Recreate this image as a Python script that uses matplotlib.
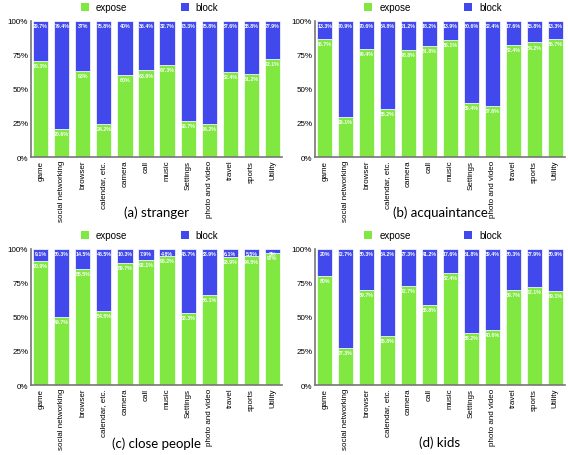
import matplotlib.pyplot as plt
import numpy as np
from matplotlib.patches import Patch

plt.rcParams['font.family'] = ['Liberation Sans', 'DejaVu Sans']

categories = ['game', 'social networking', 'browser', 'calendar, etc.', 'camera', 'call',
              'music', 'Settings', 'photo and video', 'travel', 'sports', 'Utility']

stranger_expose = [70.3, 20.6, 63, 24.2, 60, 63.6, 67.3, 26.7, 24.2, 62.4, 61.2, 72.1]
stranger_block = [29.7, 79.4, 37, 75.8, 40, 36.4, 32.7, 73.3, 75.8, 37.6, 38.8, 27.9]

acq_expose = [86.7, 29.1, 79.4, 35.2, 78.8, 81.8, 86.1, 39.4, 37.6, 82.4, 84.2, 86.7]
acq_block = [13.3, 70.9, 20.6, 64.8, 21.2, 18.2, 13.9, 60.6, 62.4, 17.6, 15.8, 13.3]

close_expose = [90.9, 49.7, 85.5, 54.5, 89.7, 92.1, 95.2, 53.3, 66.1, 93.9, 94.5, 97]
close_block = [9.1, 50.3, 14.5, 45.5, 10.3, 7.9, 4.8, 46.7, 33.9, 6.1, 5.5, 3]

kids_expose = [80, 27.3, 69.7, 35.8, 72.7, 58.8, 82.4, 38.2, 40.6, 69.7, 72.1, 69.1]
kids_block = [20, 72.7, 30.3, 64.2, 27.3, 41.2, 17.6, 61.8, 59.4, 30.3, 27.9, 30.9]

panels = [
    ('(a) stranger', stranger_expose, stranger_block),
    ('(b) acquaintance', acq_expose, acq_block),
    ('(c) close people', close_expose, close_block),
    ('(d) kids', kids_expose, kids_block),
]

green = '#80E840'
blue = '#4249EC'

# положения осей в долях фигуры (left, bottom, width, height)
rects = [
    (0.0546, 0.6535, 0.442, 0.2983),
    (0.5546, 0.6535, 0.440, 0.2983),
    (0.0546, 0.1535, 0.442, 0.2983),
    (0.5546, 0.1535, 0.440, 0.2983),
]
caption_y = [0.533, 0.533, 0.028, 0.030]

fig = plt.figure(figsize=(5.68, 4.56), dpi=100)

def fmt(v):
    return ('%g' % v) + '%'

x = np.arange(len(categories))
for (title, expose, block), rect, cy in zip(panels, rects, caption_y):
    ax = fig.add_axes(rect)
    ax.bar(x, expose, width=0.72, color=green, edgecolor='white', linewidth=0.5)
    ax.bar(x, block, width=0.72, bottom=expose, color=blue, edgecolor='white', linewidth=0.5)
    for i in range(len(categories)):
        ax.text(x[i], expose[i] - 1.5, fmt(expose[i]), ha='center', va='top',
                color='white', fontsize=3.8, fontweight='bold')
        ax.text(x[i], 98.5, fmt(block[i]), ha='center', va='top',
                color='white', fontsize=3.8, fontweight='bold')
    ax.set_xlim(-0.46, 11.46)
    ax.set_ylim(0, 100)
    ax.set_yticks([0, 25, 50, 75, 100])
    ax.set_yticklabels(['0%', '25%', '50%', '75%', '100%'], fontsize=5.8)
    ax.set_xticks(x)
    ax.set_xticklabels(categories, rotation=90, fontsize=5.8)
    ax.tick_params(length=0, pad=2)
    for s in ['top', 'right']:
        ax.spines[s].set_visible(False)
    for s in ['left', 'bottom']:
        ax.spines[s].set_color('#777777')
        ax.spines[s].set_linewidth(1.2)
    handles = [Patch(facecolor=green, label='expose'), Patch(facecolor=blue, label='block')]
    ax.legend(handles=handles, loc='lower center', bbox_to_anchor=(0.472, 1.0), ncol=2,
              frameon=False, fontsize=7, handlelength=0.82, handleheight=0.82,
              columnspacing=5.5, handletextpad=0.72, borderaxespad=0.5)
    fig.text(rect[0] + rect[2] / 2, cy, title, ha='center', va='center',
             fontsize=9.5, family=['Lato', 'DejaVu Sans'])

plt.savefig('out.png', dpi=100)
